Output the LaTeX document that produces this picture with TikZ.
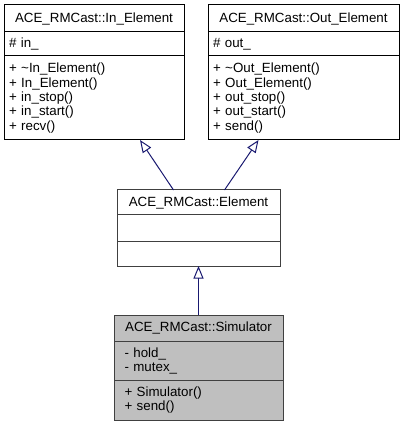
\documentclass[tikz,border=0pt]{standalone}
\usepackage{fontspec}
\setmainfont{Liberation Sans}
\usetikzlibrary{positioning,arrows.meta}

\definecolor{edgeblue}{HTML}{191970}
\definecolor{curfill}{HTML}{BFBFBF}
\definecolor{boxgray}{HTML}{404040}

\newcommand{\umlfont}{\fontsize{10}{10.75}\selectfont}
\newcommand{\umlstrut}{\vrule height 8pt depth 2.5pt width 0pt}

\tikzstyle{compartment} = [draw=black,fill=white,line width=0.75pt,inner xsep=0pt,inner ysep=0pt,outer sep=0pt,font=\umlfont,execute at begin node=\umlstrut,execute at end node=\umlstrut]
\tikzstyle{members} = [compartment,align=left,inner xsep=3.75pt]
\tikzstyle{current} = [draw=boxgray,fill=curfill]
\tikzstyle{generalize} = [draw=edgeblue,line width=0.75pt]

\begin{document}
\begin{tikzpicture}[x=0.75pt,y=-0.75pt,>={Triangle[open,length=9.4pt,width=7.5pt]}]

	\useasboundingbox (0,0) rectangle (404,427);

	% base classes
	\node (in_name) [compartment,anchor=north,minimum width=135pt,minimum height=20.25pt] at (94,5) {ACE\_RMCast::In\_Element};
	\node (in_attr) [members,below=0pt of in_name,text width=127.5pt,minimum height=18pt] {\# in\_};
	\node (in_ops) [members,below=0pt of in_attr,text width=127.5pt,minimum height=63pt] {+ \textasciitilde In\_Element()\\+ In\_Element()\\+ in\_stop()\\+ in\_start()\\+ recv()};

	\node (out_name) [compartment,anchor=north,minimum width=143.25pt,minimum height=20.25pt] at (303.5,5) {ACE\_RMCast::Out\_Element};
	\node (out_attr) [members,below=0pt of out_name,text width=135.75pt,minimum height=18pt] {\# out\_};
	\node (out_ops) [members,below=0pt of out_attr,text width=135.75pt,minimum height=63pt] {+ \textasciitilde Out\_Element()\\+ Out\_Element()\\+ out\_stop()\\+ out\_start()\\+ send()};

	% derived classes
	\node (el_name) [compartment,draw=boxgray,anchor=north,minimum width=122.25pt,minimum height=18.75pt] at (198.5,190) {ACE\_RMCast::Element};
	\node (el_attr) [members,draw=boxgray,below=0pt of el_name,text width=114.75pt,minimum height=19.5pt] {};
	\node (el_ops) [members,draw=boxgray,below=0pt of el_attr,text width=114.75pt,minimum height=18.75pt] {};

	\node (sim_name) [compartment,current,anchor=north,minimum width=126.75pt,minimum height=19.5pt] at (198.5,315) {ACE\_RMCast::Simulator};
	\node (sim_attr) [members,current,below=0pt of sim_name,inner xsep=7.875pt,text width=111pt,minimum height=29.25pt] {- hold\_\\- mutex\_};
	\node (sim_ops) [members,current,below=0pt of sim_attr,inner xsep=7.875pt,text width=111pt,minimum height=30pt] {+ Simulator()\\+ send()};

	\path[->]
		([shift={(-25,0)}]el_name.north) edge[generalize] ([shift={(46,0)}]in_ops.south)
		([shift={(26,0)}]el_name.north) edge[generalize] ([shift={(-45,0)}]out_ops.south)
		(sim_name.north) edge[generalize] (el_ops.south)
		;

\end{tikzpicture}
\end{document}
